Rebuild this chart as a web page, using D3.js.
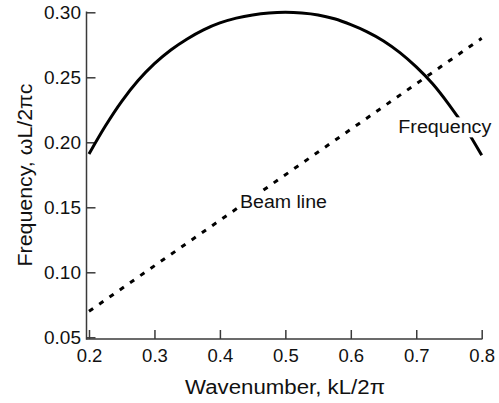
<!DOCTYPE html>
<html>
<head>
<meta charset="utf-8">
<script src="https://cdn.jsdelivr.net/npm/d3@7"></script>
<style>
  body { margin: 0; background: #fff; }
  text { font-family: "Liberation Sans", Arial, sans-serif; fill: #111; }
</style>
</head>
<body>
<div id="chart"></div>
<script>
// wavenumber samples, kL/2pi
var kValues = [0.200, 0.225, 0.250, 0.275, 0.300, 0.325, 0.350, 0.375, 0.400, 0.425, 0.450, 0.475, 0.500,
               0.525, 0.550, 0.575, 0.600, 0.625, 0.650, 0.675, 0.700, 0.725, 0.750, 0.775, 0.800];
// frequency wL/2pic
var frequency = [0.191, 0.2125, 0.2315, 0.2475, 0.2605, 0.271, 0.2795, 0.2865, 0.2918, 0.2955, 0.298, 0.2995, 0.300,
                 0.2995, 0.298, 0.295, 0.2905, 0.285, 0.278, 0.269, 0.258, 0.245, 0.229, 0.211, 0.190];
// beam line
var beamK = [0.2, 0.4, 0.6, 0.8];
var beamOmega = [0.07, 0.14, 0.21, 0.28];

var xTicks = [0.2, 0.3, 0.4, 0.5, 0.6, 0.7, 0.8];
var yTicks = [0.05, 0.10, 0.15, 0.20, 0.25, 0.30];

var width = 499, height = 403;

var svg = d3.select("#chart").append("svg")
    .attr("width", width)
    .attr("height", height);

var x = d3.scaleLinear().domain([0.2, 0.8]).range([89, 481.7]);
var y = d3.scaleLinear().domain([0.05, 0.30]).range([337.3, 12.3]);

var axisColor = "#3a3a3a";
var axisX0 = 86.5, axisY0 = 339;

// axes (ticks point inward)
var gx = svg.append("g")
    .attr("transform", "translate(0," + axisY0 + ")")
    .call(d3.axisBottom(x).tickValues(xTicks).tickFormat(d3.format(".1f"))
        .tickSizeInner(-9).tickSizeOuter(0).tickPadding(10));
gx.select(".domain").remove();
gx.selectAll(".tick line").attr("stroke", axisColor).attr("stroke-width", 1.5);
gx.selectAll(".tick text").style("font-size", "18.5px")
    .style("font-family", "'Liberation Sans', Arial, sans-serif").attr("fill", "#111");

var gy = svg.append("g")
    .attr("transform", "translate(" + axisX0 + ",0)")
    .call(d3.axisLeft(y).tickValues(yTicks).tickFormat(d3.format(".2f"))
        .tickSizeInner(-9).tickSizeOuter(0).tickPadding(5.5));
gy.select(".domain").remove();
gy.selectAll(".tick line").attr("stroke", axisColor).attr("stroke-width", 1.5);
gy.selectAll(".tick text").style("font-size", "18.5px")
    .style("font-family", "'Liberation Sans', Arial, sans-serif").attr("fill", "#111")
    .attr("textLength", 37).attr("lengthAdjust", "spacingAndGlyphs");

svg.append("line")
    .attr("x1", axisX0).attr("x2", x(0.8) + 0.75)
    .attr("y1", axisY0).attr("y2", axisY0)
    .attr("stroke", axisColor).attr("stroke-width", 1.5);
svg.append("line")
    .attr("x1", axisX0).attr("x2", axisX0)
    .attr("y1", y(0.30) - 0.75).attr("y2", axisY0 + 0.75)
    .attr("stroke", axisColor).attr("stroke-width", 1.5);

// beam line (dashed)
var beamLine = d3.line()
    .x(function (d, i) { return x(beamK[i]); })
    .y(function (d) { return y(d); });
svg.append("path")
    .attr("d", beamLine(beamOmega))
    .attr("fill", "none")
    .attr("stroke", "#000")
    .attr("stroke-width", 3)
    .attr("stroke-dasharray", "5,7.5");

// frequency curve
var freqLine = d3.line()
    .x(function (d, i) { return x(kValues[i]); })
    .y(function (d) { return y(d); })
    .curve(d3.curveCatmullRom);
svg.append("path")
    .attr("d", freqLine(frequency))
    .attr("fill", "none")
    .attr("stroke", "#000")
    .attr("stroke-width", 3);

// in-plot labels with white background
function label(txt, k, w, len) {
  var g = svg.append("g");
  var t = g.append("text")
      .attr("x", x(k)).attr("y", y(w))
      .style("font-size", "18px")
      .attr("textLength", len).attr("lengthAdjust", "spacingAndGlyphs")
      .text(txt);
  var bb = t.node().getBBox();
  g.insert("rect", "text")
      .attr("x", bb.x - 2).attr("y", bb.y)
      .attr("width", bb.width + 4).attr("height", bb.height)
      .attr("fill", "#fff");
}
label("Frequency", 0.6726, 0.2069, 93);
label("Beam line", 0.4307, 0.1492, 87);

// axis titles
svg.append("text")
    .attr("x", 285).attr("y", 394)
    .attr("text-anchor", "middle")
    .style("font-size", "19.5px")
    .attr("textLength", 200).attr("lengthAdjust", "spacingAndGlyphs")
    .text("Wavenumber, kL/2\u03c0");

svg.append("text")
    .attr("transform", "translate(31.5,175) rotate(-90)")
    .attr("text-anchor", "middle")
    .style("font-size", "19.5px")
    .attr("textLength", 183).attr("lengthAdjust", "spacingAndGlyphs")
    .text("Frequency, \u03c9L/2\u03c0c");
</script>
</body>
</html>
